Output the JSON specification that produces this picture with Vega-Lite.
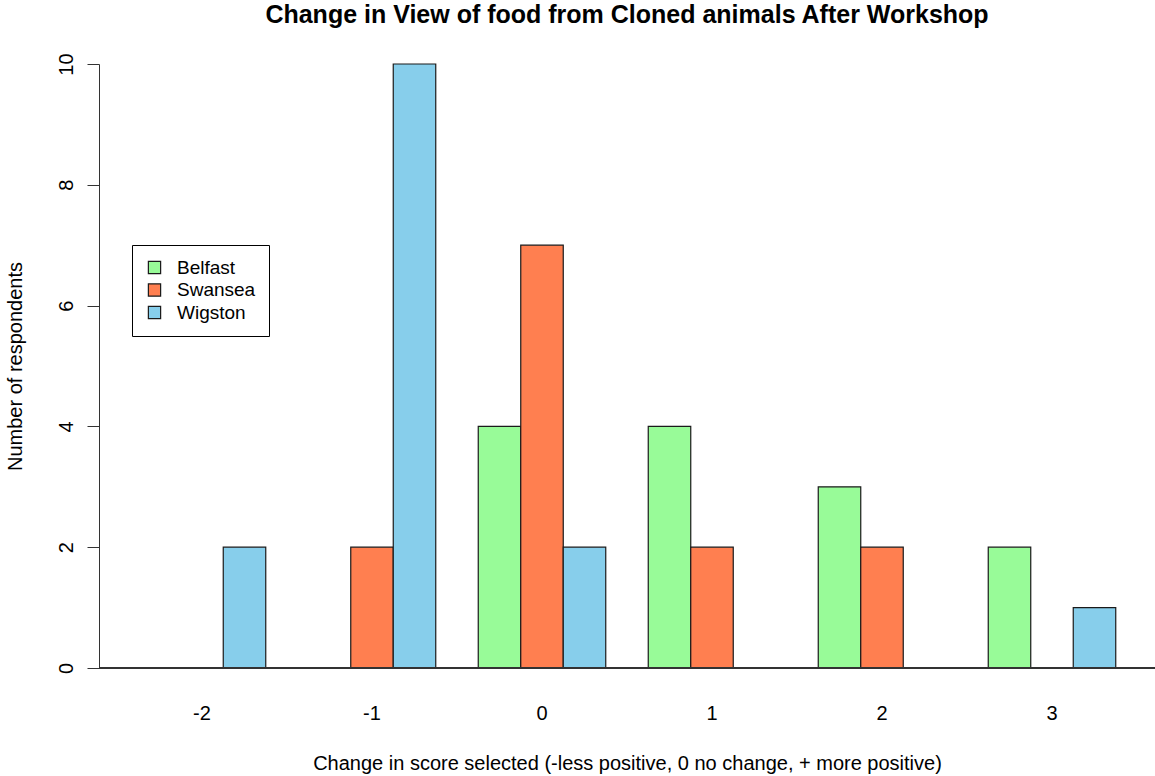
{
  "$schema": "https://vega.github.io/schema/vega-lite/v6.json",
  "width": 1056,
  "height": 604,
  "autosize": {"type": "none"},
  "padding": {"left": 99, "top": 64, "right": 0, "bottom": 108},
  "background": "white",
  "title": {
    "text": "Change in View of food from Cloned animals After Workshop",
    "font": "Liberation Sans",
    "fontSize": 25,
    "fontWeight": "bold",
    "color": "black",
    "anchor": "middle",
    "frame": "group",
    "offset": 25
  },
  "config": {
    "view": {"stroke": null},
    "font": "Liberation Sans"
  },
  "data": {
    "values": [
      {"score": "-2", "city": "Belfast", "n": 0},
      {"score": "-2", "city": "Swansea", "n": 0},
      {"score": "-2", "city": "Wigston", "n": 2},
      {"score": "-1", "city": "Belfast", "n": 0},
      {"score": "-1", "city": "Swansea", "n": 2},
      {"score": "-1", "city": "Wigston", "n": 10},
      {"score": "0", "city": "Belfast", "n": 4},
      {"score": "0", "city": "Swansea", "n": 7},
      {"score": "0", "city": "Wigston", "n": 2},
      {"score": "1", "city": "Belfast", "n": 4},
      {"score": "1", "city": "Swansea", "n": 2},
      {"score": "1", "city": "Wigston", "n": 0},
      {"score": "2", "city": "Belfast", "n": 3},
      {"score": "2", "city": "Swansea", "n": 2},
      {"score": "2", "city": "Wigston", "n": 0},
      {"score": "3", "city": "Belfast", "n": 2},
      {"score": "3", "city": "Swansea", "n": 0},
      {"score": "3", "city": "Wigston", "n": 1}
    ]
  },
  "layer": [
    {
      "mark": {"type": "bar", "stroke": "#1a1a1a", "strokeWidth": 1.2},
      "encoding": {
        "x": {
          "field": "score",
          "type": "ordinal",
          "sort": ["-2", "-1", "0", "1", "2", "3"],
          "scale": {"paddingInner": 0.25, "paddingOuter": 0.2309},
          "axis": {
            "title": "Change in score selected (-less positive, 0 no change, + more positive)",
            "titleFont": "Liberation Sans",
            "titleFontSize": 20,
            "titleFontWeight": "normal",
            "titleColor": "black",
            "titlePadding": 30,
            "labelAngle": 0,
            "labelFontSize": 20,
            "labelColor": "black",
            "labelPadding": 35,
            "domain": false,
            "ticks": false
          }
        },
        "xOffset": {
          "field": "city",
          "type": "nominal",
          "sort": ["Belfast", "Swansea", "Wigston"],
          "scale": {"paddingInner": 0, "paddingOuter": 0}
        },
        "y": {
          "field": "n",
          "type": "quantitative",
          "scale": {"domain": [0, 10], "nice": false},
          "axis": {
            "title": "Number of respondents",
            "titleFont": "Liberation Sans",
            "titleFontSize": 20,
            "titleFontWeight": "normal",
            "titleColor": "black",
            "titlePadding": 31,
            "values": [0, 2, 4, 6, 8, 10],
            "format": "d",
            "grid": false,
            "domainColor": "#333",
            "tickColor": "#333",
            "tickSize": 12,
            "labelAngle": 270,
            "labelFontSize": 20,
            "labelColor": "black",
            "labelPadding": 11
          }
        },
        "color": {
          "field": "city",
          "type": "nominal",
          "scale": {
            "domain": ["Belfast", "Swansea", "Wigston"],
            "range": ["#98FB98", "#FF7F50", "#87CEEB"]
          },
          "legend": {
            "title": null,
            "orient": "none",
            "legendX": 33,
            "legendY": 181,
            "direction": "vertical",
            "fillColor": "white",
            "strokeColor": "black",
            "padding": 13,
            "symbolType": "square",
            "symbolSize": 150,
            "symbolStrokeColor": "#1a1a1a",
            "symbolStrokeWidth": 1.2,
            "symbolFillOpacity": 1,
            "labelFontSize": 19,
            "labelFont": "Liberation Sans",
            "labelColor": "black",
            "labelOffset": 13,
            "rowPadding": 2.5
          }
        }
      }
    },
    {
      "mark": {"type": "rule", "color": "#333", "strokeWidth": 1.2},
      "encoding": {"y": {"datum": 0}}
    }
  ]
}
